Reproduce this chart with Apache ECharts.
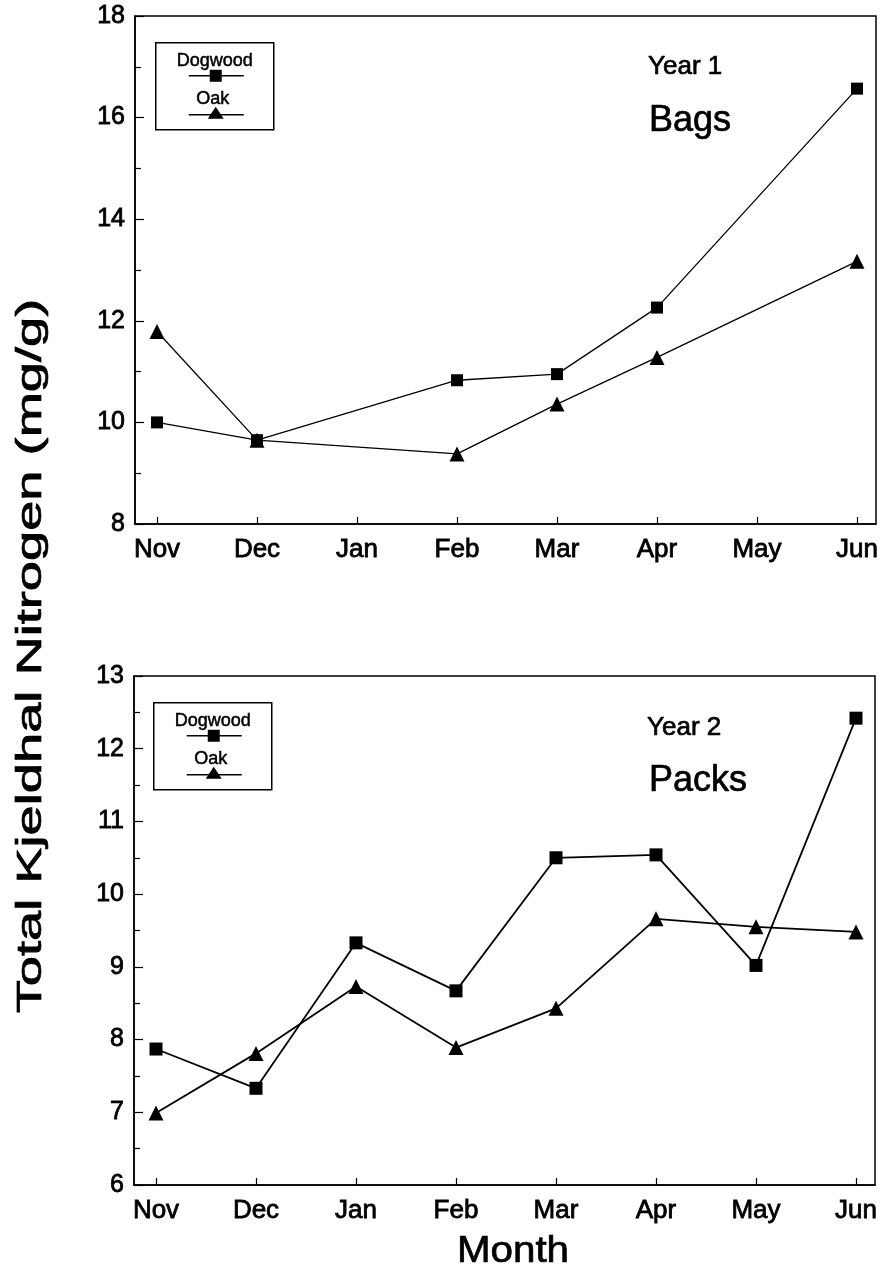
<!DOCTYPE html>
<html>
<head>
<meta charset="utf-8">
<script src="https://cdn.jsdelivr.net/npm/echarts@6/dist/echarts.min.js"></script>
<style>html,body{margin:0;padding:0;background:#fff}#c{width:882px;height:1276px}</style>
</head>
<body>
<div id="c"></div>
<script>
var months = ['Nov', 'Dec', 'Jan', 'Feb', 'Mar', 'Apr', 'May', 'Jun'];
var monthIdx = [0, 1, 2, 3, 4, 5, 6, 7];
// Year 1 (Bags) - null = not sampled
var y1Dogwood = [10.0, 9.65, null, 10.83, 10.95, 12.26, null, 16.57];
var y1Oak     = [11.79, 9.65, null, 9.38, 10.36, 11.28, null, 13.17];
// Year 2 (Packs)
var y2Dogwood = [7.87, 7.33, 9.33, 8.67, 10.5, 10.54, 9.02, 12.42];
var y2Oak     = [6.99, 7.81, 8.73, 7.89, 8.43, 9.66, 9.55, 9.48];
var y1Ticks = [8, 10, 12, 14, 16, 18];
var y2Ticks = [6, 7, 8, 9, 10, 11, 12, 13];

var FONT = "'Liberation Sans', Arial, Helvetica, sans-serif";

function pairs(vals) {
  var out = [];
  vals.forEach(function (v, i) { if (v !== null) out.push([monthIdx[i], v]); });
  return out;
}

function xAxisCfg(gi) {
  return {
    type: 'value', gridIndex: gi, min: -0.22, max: 7.19,
    axisLine: { show: true, onZero: false, lineStyle: { color: '#000', width: 1.5 } },
    axisTick: { show: true, inside: true, length: 7, customValues: monthIdx, lineStyle: { color: '#000', width: 1.2 } },
    axisLabel: { show: true, customValues: monthIdx, margin: 13, color: '#000', fontSize: 26, fontFamily: FONT,
      textBorderColor: '#000', textBorderWidth: 0.8,
      formatter: function (v) { return months[Math.round(v)] || ''; } },
    splitLine: { show: false }
  };
}
function yAxisCfg(gi, ticks) {
  return {
    type: 'value', gridIndex: gi, min: ticks[0], max: ticks[ticks.length - 1], interval: ticks[1] - ticks[0],
    axisLine: { show: true, onZero: false, lineStyle: { color: '#000', width: 1.5 } },
    axisTick: { show: true, inside: true, length: 9, lineStyle: { color: '#000', width: 1.2 } },
    minorTick: { show: true, splitNumber: 2, length: 6, lineStyle: { color: '#000', width: 1.2 } },
    axisLabel: { show: true, margin: 10, color: '#000', fontSize: 25, fontFamily: FONT,
      textBorderColor: '#000', textBorderWidth: 0.8 },
    splitLine: { show: false }
  };
}
function lineSeries(name, data, xi, sym, size, w) {
  return {
    name: name, type: 'line', xAxisIndex: xi, yAxisIndex: xi, data: pairs(data),
    symbol: sym, symbolSize: size, showSymbol: true,
    lineStyle: { color: '#000', width: w }, itemStyle: { color: '#000' },
    emphasis: { disabled: true }, animation: false
  };
}
function txt(extra) {
  var s = { fontFamily: FONT, fill: '#000', stroke: '#000', lineWidth: 0.7 };
  for (var k in extra) s[k] = extra[k];
  return s;
}
function legendBox(x, y) {
  return {
    type: 'group', left: x, top: y,
    children: [
      { type: 'rect', shape: { x: 0, y: 0, width: 118, height: 87 }, style: { fill: '#fff', stroke: '#000', lineWidth: 1.5 } },
      { type: 'text', style: txt({ x: 59, y: 18, text: 'Dogwood', align: 'center', verticalAlign: 'middle', fontSize: 18, lineWidth: 0.5 }) },
      { type: 'line', shape: { x1: 33, y1: 33, x2: 88, y2: 33 }, style: { stroke: '#000', lineWidth: 1.5 } },
      { type: 'rect', shape: { x: 54, y: 27, width: 12, height: 12 }, style: { fill: '#000' } },
      { type: 'text', style: txt({ x: 57, y: 56, text: 'Oak', align: 'center', verticalAlign: 'middle', fontSize: 18, lineWidth: 0.5 }) },
      { type: 'line', shape: { x1: 33, y1: 72, x2: 88, y2: 72 }, style: { stroke: '#000', lineWidth: 1.5 } },
      { type: 'polygon', shape: { points: [[60, 64], [52, 76], [68, 76]] }, style: { fill: '#000' } }
    ]
  };
}

var chart = echarts.init(document.getElementById('c'), null, { renderer: 'canvas' });
chart.setOption({
  backgroundColor: '#fff',
  animation: false,
  grid: [
    { left: 135, top: 16, width: 741, height: 508, show: true, borderColor: '#000', borderWidth: 1.5, backgroundColor: 'transparent' },
    { left: 134, top: 676, width: 741, height: 509, show: true, borderColor: '#000', borderWidth: 1.5, backgroundColor: 'transparent' }
  ],
  xAxis: [xAxisCfg(0), xAxisCfg(1)],
  yAxis: [yAxisCfg(0, y1Ticks), yAxisCfg(1, y2Ticks)],
  series: [
    lineSeries('Dogwood', y1Dogwood, 0, 'rect', 12, 1.3),
    lineSeries('Oak', y1Oak, 0, 'triangle', 15, 1.3),
    lineSeries('Dogwood', y2Dogwood, 1, 'rect', 13, 1.8),
    lineSeries('Oak', y2Oak, 1, 'triangle', 15, 1.8)
  ],
  graphic: [
    legendBox(155, 42),
    legendBox(153, 702),
    { type: 'text', x: 648, y: 67, style: txt({ text: 'Year 1', fontSize: 26, verticalAlign: 'middle' }) },
    { type: 'text', x: 649, y: 121, style: txt({ text: 'Bags', fontSize: 36, verticalAlign: 'middle' }) },
    { type: 'text', x: 647, y: 728, style: txt({ text: 'Year 2', fontSize: 26, verticalAlign: 'middle' }) },
    { type: 'text', x: 649, y: 781, style: txt({ text: 'Packs', fontSize: 36, verticalAlign: 'middle' }) },
    { type: 'text', x: 513, y: 1252, scaleX: 1.12, style: txt({ text: 'Month', fontSize: 36, align: 'center', verticalAlign: 'middle' }) },
    { type: 'text', x: 31, y: 656, rotation: Math.PI / 2, scaleX: 1.55,
      style: txt({ text: 'Total Kjeldhal Nitrogen (mg/g)', align: 'center', verticalAlign: 'middle', fontSize: 35 }) }
  ]
});
</script>
</body>
</html>
